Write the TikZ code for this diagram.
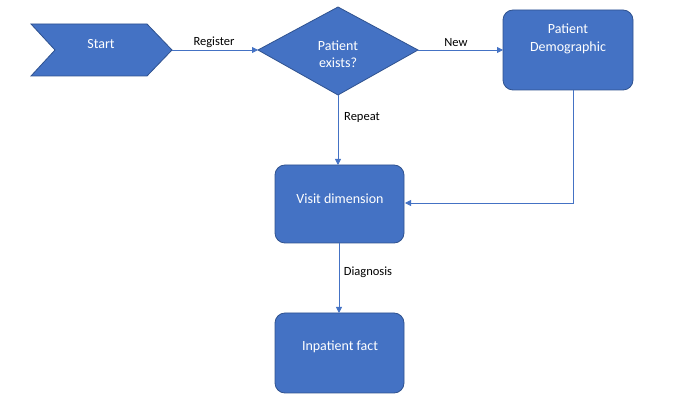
\documentclass[tikz,border=0pt]{standalone}
\usepackage{fontspec}
\setmainfont{Carlito}
\usetikzlibrary{arrows.meta}
\definecolor{boxfill}{HTML}{4472C4}
\definecolor{boxline}{HTML}{2F528F}
\begin{document}
\begin{tikzpicture}[x=1pt,y=-1pt,
  shp/.style={fill=boxfill,draw=boxline,line width=0.8pt},
  rbox/.style={shp,rounded corners=10pt},
  wtxt/.style={text=white,font=\fontsize{14}{17.5}\selectfont,align=center,inner sep=0pt},
  conn/.style={draw=boxfill,line width=0.8pt,-{Triangle[length=6pt,width=6pt]}},
  lbl/.style={font=\fontsize{12.5}{14}\selectfont,text=black,inner sep=0pt}]
\useasboundingbox (0,0) rectangle (678,403);
% Start chevron
\filldraw[shp] (31,24) -- (147,24) -- (172,50) -- (147,76) -- (31,76) -- (55,50) -- cycle;
\coordinate (startR) at (172,50);
\node[wtxt] (start) at (101,44) {Start};
% Diamond
\filldraw[shp] (258,50) -- (338,7) -- (418,50) -- (338,95) -- cycle;
\coordinate (dL) at (258,50);
\coordinate (dR) at (418,50);
\coordinate (dB) at (338,95);
\node[wtxt] (exists) at (338,54) {Patient\\exists?};
% Patient Demographic
\filldraw[rbox] (503,10) rectangle (633,90);
\node[wtxt] (demo) at (568,39) {Patient\\Demographic};
\coordinate (demoB) at (573,90);
\coordinate (demoL) at (503,50);
% Visit dimension
\filldraw[rbox] (275,165) rectangle (404,243);
\node[wtxt] (visit) at (340,199) {Visit dimension};
\coordinate (visitT) at (338,165);
\coordinate (visitR) at (405,203);
\coordinate (visitB) at (339,243);
% Inpatient fact
\filldraw[rbox] (275,313) rectangle (404,393);
\node[wtxt] (inp) at (340,347) {Inpatient fact};
\coordinate (inpT) at (339,313);
% Connectors
\draw[conn] (startR) -- (dL);
\node[lbl] (reg) at (214,42) {Register};
\draw[conn] (dR) -- (demoL);
\node[lbl] (new) at (456,43) {New};
\draw[conn] (dB) -- (visitT);
\node[lbl] (rep) at (362,118) {Repeat};
\draw[conn] (demoB) -- (573,203) -- (visitR);
\draw[conn] (visitB) -- (inpT);
\node[lbl] (diag) at (368,272) {Diagnosis};
\end{tikzpicture}
\end{document}
